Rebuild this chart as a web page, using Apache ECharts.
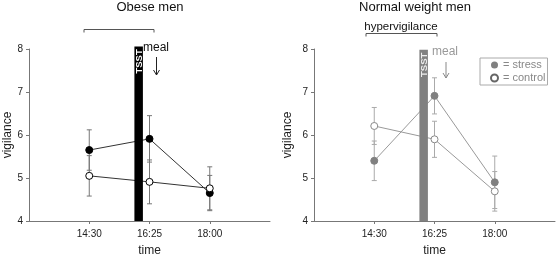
<!DOCTYPE html>
<html><head><meta charset="utf-8">
<script src="https://cdn.jsdelivr.net/npm/echarts@6/dist/echarts.min.js"></script>
<style>html,body{margin:0;padding:0;background:#fff}#c{width:556px;height:256px}</style>
</head><body><div id="c"></div>
<script>
// ---- data ----
const timeLabels = ['14:30', '16:25', '18:00'];
const timePos = [1, 2, 3];
const tsstPos = 1.82;
const yTicks = [4, 5, 6, 7, 8];
const obeseTsstTop = 8.06;
const normalTsstTop = 7.98;

const obeseStress = [5.65, 5.91, 4.65];
const obeseStressErr = [0.47, 0.54, 0.41];
const obeseControl = [5.05, 4.91, 4.76];
const obeseControlErr = [0.47, 0.51, 0.50];

const normalStress = [5.40, 6.91, 4.90];
const normalStressErr = [0.46, 0.42, 0.61];
const normalControl = [6.21, 5.90, 4.69];
const normalControlErr = [0.43, 0.42, 0.46];

const FONT = '"Liberation Sans", Arial, sans-serif';
const pts = vals => vals.map((v, i) => [timePos[i], v]);
const errs = (vals, e) => vals.map((v, i) => [timePos[i], v - e[i], v + e[i]]);

function errRender(color) {
  return function (params, api) {
    const x = api.value(0);
    const p1 = api.coord([x, api.value(1)]);
    const p2 = api.coord([x, api.value(2)]);
    const w = 2.5;
    const st = { stroke: color, lineWidth: 1 };
    return { type: 'group', children: [
      { type: 'line', shape: { x1: p1[0], y1: p1[1], x2: p2[0], y2: p2[1] }, style: st },
      { type: 'line', shape: { x1: p1[0] - w, y1: p1[1], x2: p1[0] + w, y2: p1[1] }, style: st },
      { type: 'line', shape: { x1: p2[0] - w, y1: p2[1], x2: p2[0] + w, y2: p2[1] }, style: st }
    ]};
  };
}
function barRender(color, textColor) {
  return function (params, api) {
    const x = api.value(0);
    const lo = api.coord([x, api.value(1)]);
    const hi = api.coord([x, api.value(2)]);
    const w = 8.5;
    return { type: 'group', children: [
      { type: 'rect', shape: { x: lo[0] - w / 2, y: hi[1], width: w, height: lo[1] - hi[1] }, style: { fill: color } },
      { type: 'text', x: lo[0] + 0.5, y: hi[1] + 15, rotation: Math.PI / 2,
        style: { text: 'TSST', fill: textColor, font: 'bold 9.5px ' + FONT, align: 'center', verticalAlign: 'middle' } }
    ]};
  };
}

function xAxis(gi) {
  return {
    gridIndex: gi, type: 'value', min: 0, max: 4,
    name: 'time', nameLocation: 'middle', nameGap: 24,
    nameTextStyle: { fontFamily: FONT, fontSize: 12, color: '#222' },
    axisLine: { lineStyle: { color: '#777' } },
    axisTick: { show: true, length: 3, customValues: timePos, lineStyle: { color: '#777' } },
    axisLabel: { customValues: timePos, formatter: v => timeLabels[timePos.indexOf(v)] || '',
      fontFamily: FONT, fontSize: 10, color: '#222', margin: 8 },
    splitLine: { show: false }
  };
}
function yAxis(gi, gap) {
  return {
    gridIndex: gi, type: 'value', min: yTicks[0], max: yTicks[yTicks.length - 1], interval: 1,
    name: 'vigilance', nameLocation: 'middle', nameGap: gap, nameRotate: 90,
    nameTextStyle: { fontFamily: FONT, fontSize: 12, color: '#222' },
    axisLine: { show: true, lineStyle: { color: '#777' } },
    axisTick: { show: true, length: 3, lineStyle: { color: '#777' } },
    axisLabel: { fontFamily: FONT, fontSize: 10, color: '#222', margin: 6 },
    splitLine: { show: false }
  };
}

const chart = echarts.init(document.getElementById('c'), null, { renderer: 'canvas' });
chart.setOption({
  animation: false,
  grid: [
    { left: 29, top: 49, width: 241, height: 172, outerBoundsMode: 'none', containLabel: false },
    { left: 314, top: 49, width: 241, height: 172, outerBoundsMode: 'none', containLabel: false }
  ],
  xAxis: [xAxis(0), xAxis(1)],
  yAxis: [yAxis(0, 10), yAxis(1, 20)],
  legend: {
    left: 480, top: 58, orient: 'vertical',
    itemWidth: 7, itemHeight: 7, itemGap: 1, padding: [1, 2, 1, 10],
    borderColor: '#aaa', borderWidth: 1, icon: 'circle',
    textStyle: { fontFamily: FONT, fontSize: 11, lineHeight: 12, color: '#888' },
    formatter: n => '= ' + n,
    data: [
      { name: 'stress', itemStyle: { color: '#808080', borderWidth: 0 } },
      { name: 'control', itemStyle: { color: '#fff', borderColor: '#666', borderWidth: 2 } }
    ]
  },
  series: [
    // ---- Obese ----
    { type: 'custom', xAxisIndex: 0, yAxisIndex: 0, z: 1, renderItem: errRender('#777'), data: errs(obeseStress, obeseStressErr), silent: true },
    { type: 'custom', xAxisIndex: 0, yAxisIndex: 0, z: 1, renderItem: errRender('#777'), data: errs(obeseControl, obeseControlErr), silent: true },
    { type: 'line', name: 'o_stress', xAxisIndex: 0, yAxisIndex: 0, z: 2, data: pts(obeseStress),
      symbol: 'none', lineStyle: { color: '#333', width: 1 } },
    { type: 'line', name: 'o_control', xAxisIndex: 0, yAxisIndex: 0, z: 2, data: pts(obeseControl),
      symbol: 'none', lineStyle: { color: '#333', width: 1 } },
    { type: 'custom', xAxisIndex: 0, yAxisIndex: 0, z: 3, clip: false, renderItem: barRender('#000', '#fff'), data: [[tsstPos, 4, obeseTsstTop]] },
    { type: 'scatter', xAxisIndex: 0, yAxisIndex: 0, z: 4, data: pts(obeseStress), symbolSize: 7,
      itemStyle: { color: '#000', borderColor: '#000', borderWidth: 1, opacity: 1 } },
    { type: 'scatter', xAxisIndex: 0, yAxisIndex: 0, z: 4, data: pts(obeseControl), symbolSize: 7,
      itemStyle: { color: '#fff', borderColor: '#000', borderWidth: 1, opacity: 1 } },
    // ---- Normal weight ----
    { type: 'custom', xAxisIndex: 1, yAxisIndex: 1, z: 1, renderItem: errRender('#aaa'), data: errs(normalStress, normalStressErr), silent: true },
    { type: 'custom', xAxisIndex: 1, yAxisIndex: 1, z: 1, renderItem: errRender('#aaa'), data: errs(normalControl, normalControlErr), silent: true },
    { type: 'line', name: 'n_stress_line', xAxisIndex: 1, yAxisIndex: 1, z: 2, data: pts(normalStress),
      symbol: 'none', lineStyle: { color: '#999', width: 1 } },
    { type: 'line', name: 'n_control_line', xAxisIndex: 1, yAxisIndex: 1, z: 2, data: pts(normalControl),
      symbol: 'none', lineStyle: { color: '#999', width: 1 } },
    { type: 'custom', xAxisIndex: 1, yAxisIndex: 1, z: 3, clip: false, renderItem: barRender('#808080', '#eee'), data: [[tsstPos, 4, normalTsstTop]] },
    { type: 'scatter', name: 'stress', xAxisIndex: 1, yAxisIndex: 1, z: 4, data: pts(normalStress), symbolSize: 7,
      itemStyle: { color: '#808080', borderColor: '#808080', borderWidth: 1, opacity: 1 } },
    { type: 'scatter', name: 'control', xAxisIndex: 1, yAxisIndex: 1, z: 4, data: pts(normalControl), symbolSize: 7,
      itemStyle: { color: '#fff', borderColor: '#888', borderWidth: 1, opacity: 1 } }
  ],
  graphic: [
    { type: 'text', x: 150, y: 7, style: { text: 'Obese men', font: '13px ' + FONT, fill: '#111', align: 'center', verticalAlign: 'middle' } },
    { type: 'text', x: 415, y: 7, style: { text: 'Normal weight men', font: '13px ' + FONT, fill: '#111', align: 'center', verticalAlign: 'middle' } },
    { type: 'polyline', shape: { points: [[84, 32.5], [84, 29.5], [154, 29.5], [154, 32.5]] }, style: { stroke: '#555', fill: null, lineWidth: 1 } },
    { type: 'polyline', shape: { points: [[366, 36.5], [366, 33.5], [437, 33.5], [437, 36.5]] }, style: { stroke: '#555', fill: null, lineWidth: 1 } },
    { type: 'text', x: 401, y: 27, style: { text: 'hypervigilance', font: '11.5px ' + FONT, fill: '#111', align: 'center', verticalAlign: 'middle' } },
    { type: 'text', x: 156, y: 48, style: { text: 'meal', font: '12px ' + FONT, fill: '#111', align: 'center', verticalAlign: 'middle' } },
    { type: 'line', shape: { x1: 156.5, y1: 57, x2: 156.5, y2: 75 }, style: { stroke: '#222', lineWidth: 1 } },
    { type: 'polyline', shape: { points: [[153.5, 70], [156.5, 75], [159.5, 70]] }, style: { stroke: '#222', fill: null, lineWidth: 1 } },
    { type: 'text', x: 445, y: 52, style: { text: 'meal', font: '12px ' + FONT, fill: '#999', align: 'center', verticalAlign: 'middle' } },
    { type: 'line', shape: { x1: 446, y1: 62, x2: 446, y2: 78 }, style: { stroke: '#888', lineWidth: 1 } },
    { type: 'polyline', shape: { points: [[443, 73], [446, 78], [449, 73]] }, style: { stroke: '#888', fill: null, lineWidth: 1 } }
  ]
});
</script></body></html>
